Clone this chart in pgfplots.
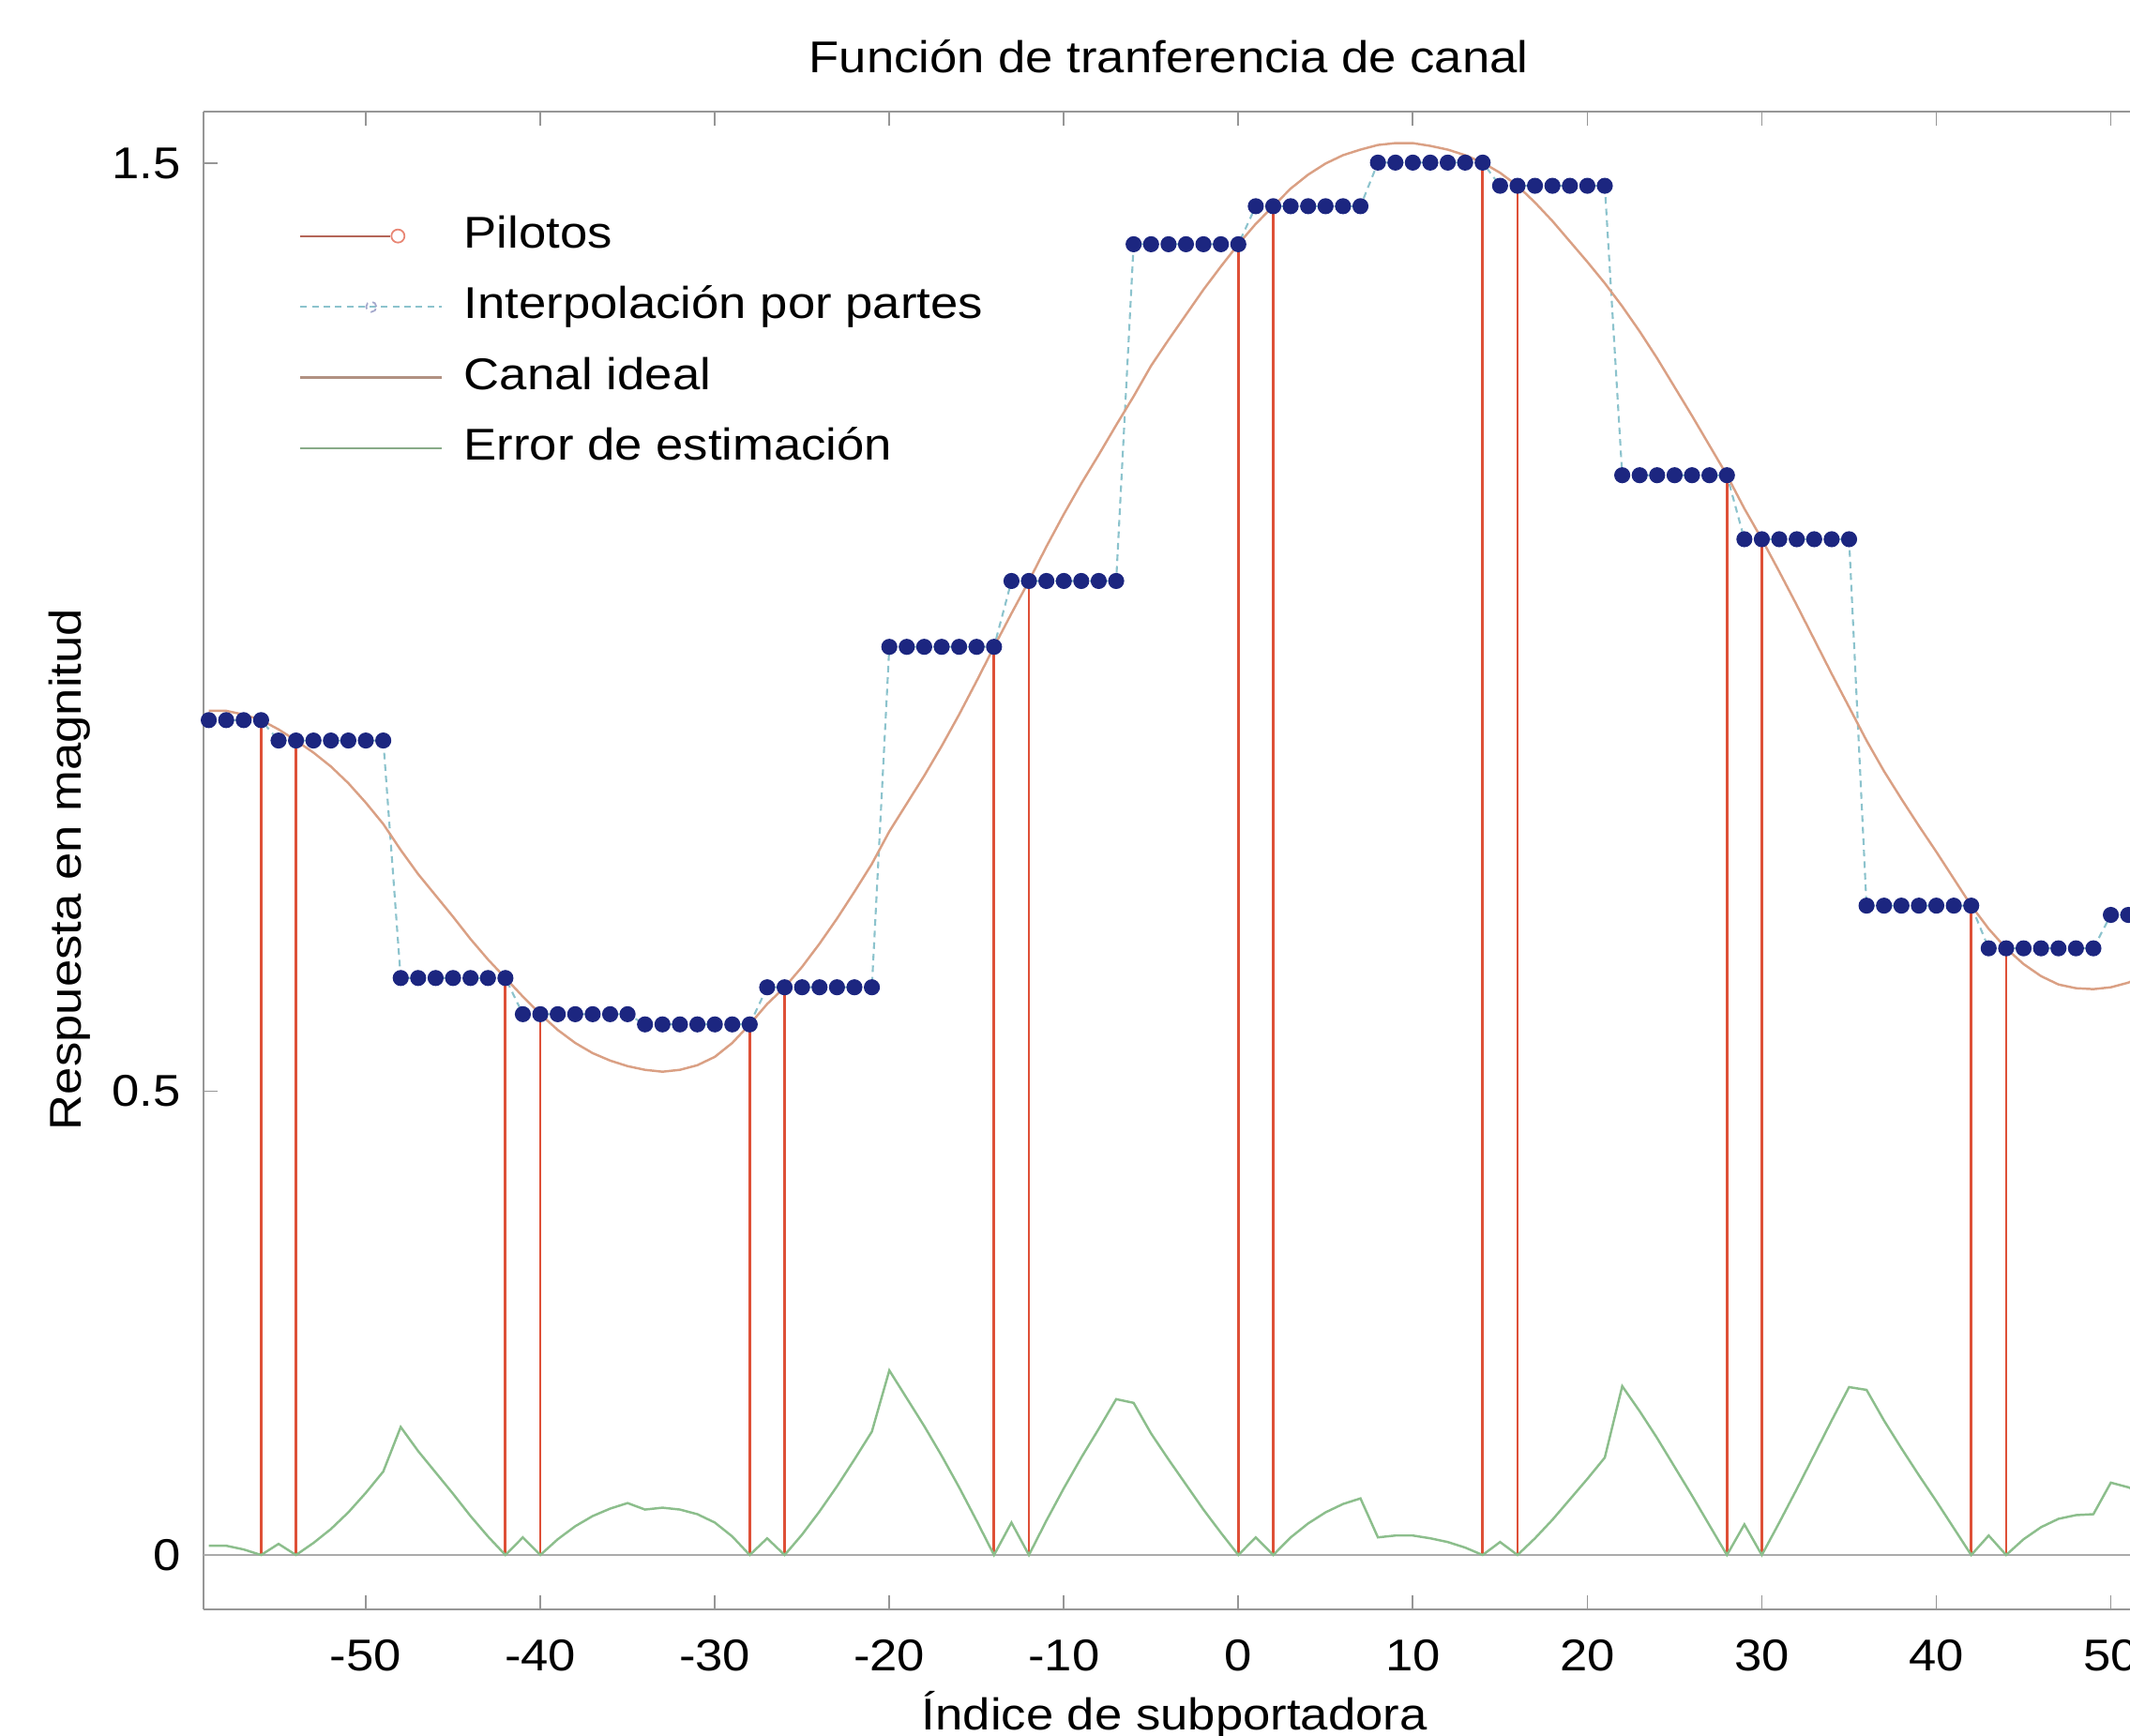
\documentclass[border=0pt]{standalone}
\usepackage{fontspec}
\setmainfont{Liberation Sans}[FakeStretch=1.11]
\usepackage{pgfplots}
\usepackage{pgfplotstable}
\pgfplotsset{compat=1.18}
\definecolor{stemred}{RGB}{222,80,55}
\definecolor{navydot}{RGB}{28,38,128}
\definecolor{interpline}{RGB}{140,195,205}
\definecolor{idealc}{RGB}{218,160,132}
\definecolor{errgreen}{RGB}{140,190,140}
\definecolor{framegray}{RGB}{150,150,150}
\newcommand{\chartfont}{\fontsize{13.5}{16}\selectfont}

\pgfplotstableread{
x H est err
-59 0.910 0.900 0.010
-58 0.910 0.900 0.010
-57 0.906 0.900 0.006
-56 0.900 0.900 0.000
-55 0.890 0.878 0.012
-54 0.878 0.878 0.000
-53 0.865 0.878 0.013
-52 0.850 0.878 0.028
-51 0.832 0.878 0.046
-50 0.811 0.878 0.067
-49 0.788 0.878 0.090
-48 0.760 0.622 0.138
-47 0.734 0.622 0.112
-46 0.711 0.622 0.089
-45 0.688 0.622 0.066
-44 0.664 0.622 0.042
-43 0.642 0.622 0.020
-42 0.622 0.622 0.000
-41 0.602 0.583 0.019
-40 0.583 0.583 0.000
-39 0.566 0.583 0.017
-38 0.552 0.583 0.031
-37 0.541 0.583 0.042
-36 0.533 0.583 0.050
-35 0.527 0.583 0.056
-34 0.523 0.572 0.049
-33 0.521 0.572 0.051
-32 0.523 0.572 0.049
-31 0.528 0.572 0.044
-30 0.537 0.572 0.035
-29 0.552 0.572 0.020
-28 0.572 0.572 0.000
-27 0.594 0.612 0.018
-26 0.612 0.612 0.000
-25 0.634 0.612 0.022
-24 0.659 0.612 0.047
-23 0.686 0.612 0.074
-22 0.715 0.612 0.103
-21 0.745 0.612 0.133
-20 0.780 0.979 0.199
-19 0.810 0.979 0.169
-18 0.840 0.979 0.139
-17 0.872 0.979 0.107
-16 0.906 0.979 0.073
-15 0.942 0.979 0.037
-14 0.979 0.979 0.000
-13 1.015 1.050 0.035
-12 1.050 1.050 0.000
-11 1.087 1.050 0.037
-10 1.122 1.050 0.072
-9 1.155 1.050 0.105
-8 1.186 1.050 0.136
-7 1.218 1.050 0.168
-6 1.249 1.413 0.164
-5 1.282 1.413 0.131
-4 1.310 1.413 0.103
-3 1.337 1.413 0.076
-2 1.364 1.413 0.049
-1 1.389 1.413 0.024
0 1.413 1.413 0.000
1 1.435 1.454 0.019
2 1.454 1.454 0.000
3 1.473 1.454 0.019
4 1.488 1.454 0.034
5 1.500 1.454 0.046
6 1.509 1.454 0.055
7 1.515 1.454 0.061
8 1.520 1.501 0.019
9 1.522 1.501 0.021
10 1.522 1.501 0.021
11 1.519 1.501 0.018
12 1.515 1.501 0.014
13 1.509 1.501 0.008
14 1.501 1.501 0.000
15 1.490 1.476 0.014
16 1.476 1.476 0.000
17 1.458 1.476 0.018
18 1.438 1.476 0.038
19 1.416 1.476 0.060
20 1.394 1.476 0.082
21 1.371 1.476 0.105
22 1.346 1.164 0.182
23 1.319 1.164 0.155
24 1.290 1.164 0.126
25 1.259 1.164 0.095
26 1.228 1.164 0.064
27 1.196 1.164 0.032
28 1.164 1.164 0.000
29 1.128 1.095 0.033
30 1.095 1.095 0.000
31 1.060 1.095 0.035
32 1.024 1.095 0.071
33 0.987 1.095 0.108
34 0.950 1.095 0.145
35 0.914 1.095 0.181
36 0.878 0.700 0.178
37 0.845 0.700 0.145
38 0.815 0.700 0.115
39 0.786 0.700 0.086
40 0.758 0.700 0.058
41 0.729 0.700 0.029
42 0.700 0.700 0.000
43 0.675 0.654 0.021
44 0.654 0.654 0.000
45 0.637 0.654 0.017
46 0.624 0.654 0.030
47 0.615 0.654 0.039
48 0.611 0.654 0.043
49 0.610 0.654 0.044
50 0.612 0.690 0.078
51 0.617 0.690 0.073
52 0.625 0.690 0.065
}\chan

\pgfplotstableread{
x p
-56 0.900
-54 0.878
-42 0.622
-40 0.583
-28 0.572
-26 0.612
-14 0.979
-12 1.050
0 1.413
2 1.454
14 1.501
16 1.476
28 1.164
30 1.095
42 0.700
44 0.654
}\pil

\begin{document}
\begin{tikzpicture}
\begin{axis}[
  at={(2.17cm,1.35cm)}, anchor=south west,
  width=20.54cm, height=15.97cm, scale only axis,
  xmin=-59.3, xmax=51.1, ymin=-0.0586, ymax=1.556,
  axis x line*=box, axis y line*=left,
  axis line style={framegray, line width=0.6pt},
  xtick={-50,-40,...,50},
  xticklabels={-50,-40,-30,-20,-10,0,10,20,30,40,50},
  ytick={0,0.5,1.5}, yticklabels={0,0.5,1.5},
  tick align=inside, major tick length=0.15cm,
  tick style={framegray, line width=0.5pt},
  xticklabel style={inner sep=0pt, anchor=north, yshift=-0.32cm},
  yticklabel style={inner sep=0pt, anchor=east, xshift=-0.24cm},
  tick label style={font=\chartfont},
  every axis title shift=0pt,
  title={Función de tranferencia de canal},
  title style={at={(axis description cs:0.501,1.0257)}, anchor=base, inner sep=0pt, font=\chartfont},
  xlabel={Índice de subportadora},
  xlabel style={at={(axis description cs:0.504,-0.0802)}, anchor=base, inner sep=0pt, font=\chartfont},
  ylabel={Respuesta en magnitud},
  ylabel style={at={(axis description cs:-0.0633,0.494)}, anchor=base, inner sep=0pt, font=\chartfont},
  legend cell align=left,
  legend style={at={(axis description cs:0.0497,0.931)}, anchor=north west,
    draw=none, fill=none, inner sep=0pt, outer sep=0pt, font=\chartfont,
    row sep=0.305cm, column sep=0.22cm,
    nodes={inner sep=0pt, text height=0.35cm, text depth=0.1cm}},
]
\addplot[framegray!80, line width=0.5pt, forget plot] coordinates {(-59.3,0) (51.1,0)};
\addplot[stemred, line width=0.8pt, ycomb, mark=o, mark size=0.06cm,
  mark options={solid, stemred},
  legend image code/.code={
    \draw[stemred!55!gray, line width=0.6pt] (0cm,0cm) -- (0.96cm,0cm);
    \draw[stemred!70, line width=0.5pt] (1.04cm,0cm) circle (0.07cm);
    \path (1.51cm,0cm);}]
  table[x=x, y=p] {\pil};
\addlegendentry{Pilotos}
\addplot[interpline, line width=0.6pt, dash pattern=on 2pt off 1.5pt,
  mark=*, mark size=0.075cm, mark options={solid, fill=navydot, draw=navydot},
  legend image code/.code={
    \draw[interpline, line width=0.6pt, dash pattern=on 2pt off 1.5pt] (0cm,0cm) -- (1.51cm,0cm);
    \draw[navydot!40, line width=0.5pt] (0.755cm,0cm) circle (0.055cm);}]
  table[x=x, y=est] {\chan};
\addlegendentry{Interpolación por partes}
\addplot[idealc, line width=0.7pt,
  legend image code/.code={
    \draw[idealc!55!gray, line width=0.7pt] (0cm,0cm) -- (1.51cm,0cm);}]
  table[x=x, y=H] {\chan};
\addlegendentry{Canal ideal}
\addplot[errgreen, line width=0.7pt,
  legend image code/.code={
    \draw[errgreen!70!gray, line width=0.7pt] (0cm,0cm) -- (1.51cm,0cm);}]
  table[x=x, y=err] {\chan};
\addlegendentry{Error de estimación}
\end{axis}
\pgfresetboundingbox
\path[use as bounding box] (0,0) rectangle (22.71cm,18.51cm);
\end{tikzpicture}
\end{document}
